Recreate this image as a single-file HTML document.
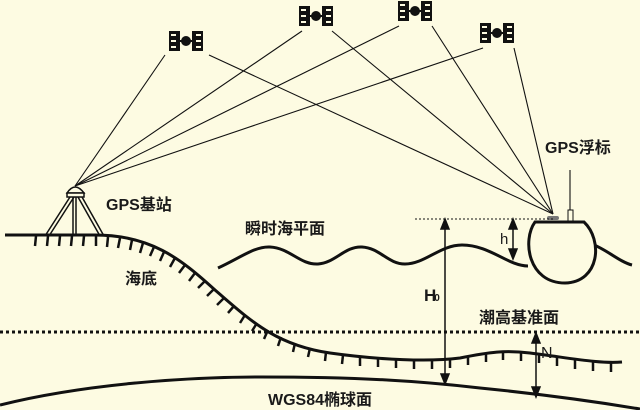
<!DOCTYPE html>
<html><head><meta charset="utf-8"><style>
html,body{margin:0;padding:0;background:#fdfbe2;}
svg{display:block}
text{font-family:"Liberation Sans","Noto Sans CJK SC",sans-serif;fill:#1a1a1a;}
</style></head><body>
<svg width="640" height="410" viewBox="0 0 640 410" xmlns="http://www.w3.org/2000/svg">
<defs>
<g id="sat">
<rect x="0" y="0" width="11" height="20" fill="#111"/>
<rect x="2" y="3" width="5" height="2" fill="#fdfbe2"/><rect x="2" y="9" width="5" height="2" fill="#fdfbe2"/><rect x="2" y="15" width="5" height="2" fill="#fdfbe2"/>
<circle cx="17" cy="10" r="5" fill="#111"/>
<line x1="11" y1="10" x2="25" y2="10" stroke="#111" stroke-width="2"/>
<rect x="23" y="0" width="11" height="20" fill="#111"/>
<rect x="27" y="3" width="5" height="2" fill="#fdfbe2"/><rect x="27" y="9" width="5" height="2" fill="#fdfbe2"/><rect x="27" y="15" width="5" height="2" fill="#fdfbe2"/>
</g>
</defs>
<rect width="640" height="410" fill="#fdfbe2"/>
<use href="#sat" x="169" y="31"/>
<use href="#sat" x="299" y="6"/>
<use href="#sat" x="398" y="1"/>
<use href="#sat" x="480" y="23"/>
<g stroke="#111" stroke-width="1.1" fill="none">
<line x1="75" y1="186" x2="165" y2="55"/>
<line x1="75" y1="186" x2="302" y2="31"/>
<line x1="75" y1="186" x2="399" y2="26"/>
<line x1="75" y1="186" x2="483" y2="48"/>
<line x1="553" y1="214" x2="209" y2="55"/>
<line x1="553" y1="214" x2="332" y2="31"/>
<line x1="553" y1="214" x2="432" y2="26"/>
<line x1="553" y1="214" x2="514" y2="48"/>
<line x1="570" y1="170" x2="570" y2="220"/>
</g>
<g stroke="#111" fill="none" stroke-width="1.5">
<path d="M67 193 Q75 181 84 193 Z" fill="#fdfbe2"/>
<rect x="67" y="193" width="17" height="4" fill="#fdfbe2"/>
<line x1="70" y1="197" x2="45" y2="236"/><line x1="74" y1="197" x2="49" y2="236"/>
<line x1="78" y1="197" x2="100" y2="236"/><line x1="82" y1="197" x2="104" y2="236"/>
<line x1="73" y1="197" x2="73" y2="235"/><line x1="76" y1="197" x2="76" y2="235"/>
</g>
<text x="106" y="210" font-size="16" font-weight="bold">GPS基站</text>
<path d="M5 235 L95 235 C150 235 180 258 215 290 C250 320 275 345 330 353 C380 360 430 362 460 358 C490 352 505 350 530 353 C570 358 600 364 622 362" stroke="#111" stroke-width="3" fill="none"/>
<g stroke="#111" stroke-width="2.5">
<line x1="36" y1="236" x2="35" y2="246"/><line x1="48" y1="236" x2="47" y2="246"/><line x1="60" y1="236" x2="59" y2="246"/><line x1="72" y1="236" x2="71" y2="246"/><line x1="84" y1="236" x2="83" y2="246"/><line x1="96" y1="236" x2="96" y2="246"/><line x1="108" y1="237" x2="107" y2="247"/><line x1="120" y1="238" x2="118" y2="248"/><line x1="132" y1="240" x2="130" y2="250"/><line x1="143" y1="243" x2="140" y2="253"/><line x1="154" y1="247" x2="150" y2="256"/><line x1="164" y1="252" x2="160" y2="261"/><line x1="175" y1="258" x2="170" y2="267"/><line x1="185" y1="265" x2="179" y2="273"/><line x1="195" y1="273" x2="189" y2="281"/><line x1="205" y1="281" x2="198" y2="288"/><line x1="214" y1="289" x2="207" y2="296"/><line x1="224" y1="298" x2="217" y2="305"/><line x1="234" y1="306" x2="228" y2="313"/><line x1="245" y1="315" x2="240" y2="323"/><line x1="257" y1="323" x2="252" y2="331"/><line x1="268" y1="330" x2="264" y2="339"/><line x1="281" y1="337" x2="278" y2="346"/><line x1="295" y1="343" x2="293" y2="352"/><line x1="310" y1="348" x2="308" y2="357"/><line x1="326" y1="352" x2="325" y2="361"/><line x1="343" y1="355" x2="342" y2="364"/><line x1="360" y1="357" x2="360" y2="366"/><line x1="378" y1="358" x2="378" y2="367"/><line x1="396" y1="359" x2="396" y2="368"/><line x1="414" y1="360" x2="414" y2="369"/><line x1="432" y1="360" x2="432" y2="369"/><line x1="450" y1="359" x2="450" y2="368"/><line x1="468" y1="356" x2="468" y2="365"/><line x1="486" y1="353" x2="486" y2="362"/><line x1="503" y1="351" x2="503" y2="360"/><line x1="521" y1="352" x2="521" y2="361"/><line x1="539" y1="354" x2="539" y2="363"/><line x1="557" y1="356" x2="557" y2="366"/><line x1="575" y1="359" x2="575" y2="369"/><line x1="593" y1="362" x2="593" y2="371"/><line x1="611" y1="363" x2="611" y2="372"/>
</g>
<text x="125" y="284" font-size="16" font-weight="bold">海底</text>
<path d="M0 405 C80 385 180 377 260 377 C360 377 420 381 480 388 C560 396 610 404 640 409" stroke="#111" stroke-width="3" fill="none"/>
<text x="268" y="405" font-size="16" font-weight="bold">WGS84椭球面</text>
<line x1="0" y1="332" x2="640" y2="332" stroke="#111" stroke-width="3" stroke-dasharray="3,3"/>
<text x="479" y="323" font-size="16" font-weight="bold">潮高基准面</text>
<path d="M218 268 C240 258 255 246 270 247 C290 248 300 265 318 264 C335 263 345 246 362 247 C380 248 388 264 405 264 C425 264 440 245 462 245 C490 245 508 266 528 266" stroke="#111" stroke-width="3" fill="none"/>
<path d="M594 245 C607 250 620 262 632 265" stroke="#111" stroke-width="3" fill="none"/>
<text x="245" y="234" font-size="16" font-weight="bold">瞬时海平面</text>
<path d="M535 222 L584 222 C603 240 600 282 565 283 C528 283 522 240 535 222 Z" stroke="#111" stroke-width="3" fill="#fdfbe2"/>
<rect x="547" y="216" width="12" height="4" rx="2" fill="#777"/>
<rect x="568" y="210" width="5" height="11" fill="#fdfbe2" stroke="#111"/>
<text x="545" y="153" font-size="16" font-weight="bold">GPS浮标</text>
<line x1="415" y1="219" x2="555" y2="219" stroke="#111" stroke-width="1" stroke-dasharray="2,2"/>
<g stroke="#111" stroke-width="1.5" fill="#111">
<line x1="445" y1="226" x2="445" y2="378"/>
<path d="M445 219 L441 229 L449 229 Z"/><path d="M445 384 L441 374 L449 374 Z"/>
<line x1="513" y1="226" x2="513" y2="252"/>
<path d="M513 219 L509 229 L517 229 Z"/><path d="M513 259 L509 249 L517 249 Z"/>
<line x1="536" y1="340" x2="536" y2="390"/>
<path d="M536 333 L532 343 L540 343 Z"/><path d="M536 397 L532 387 L540 387 Z"/>
</g>
<text x="424" y="301" font-size="17" font-weight="bold" letter-spacing="-2">H<tspan font-size="10">0</tspan></text>
<text x="500" y="244" font-size="15">h</text>
<text x="541" y="358" font-size="16">N</text>
</svg>
</body></html>
